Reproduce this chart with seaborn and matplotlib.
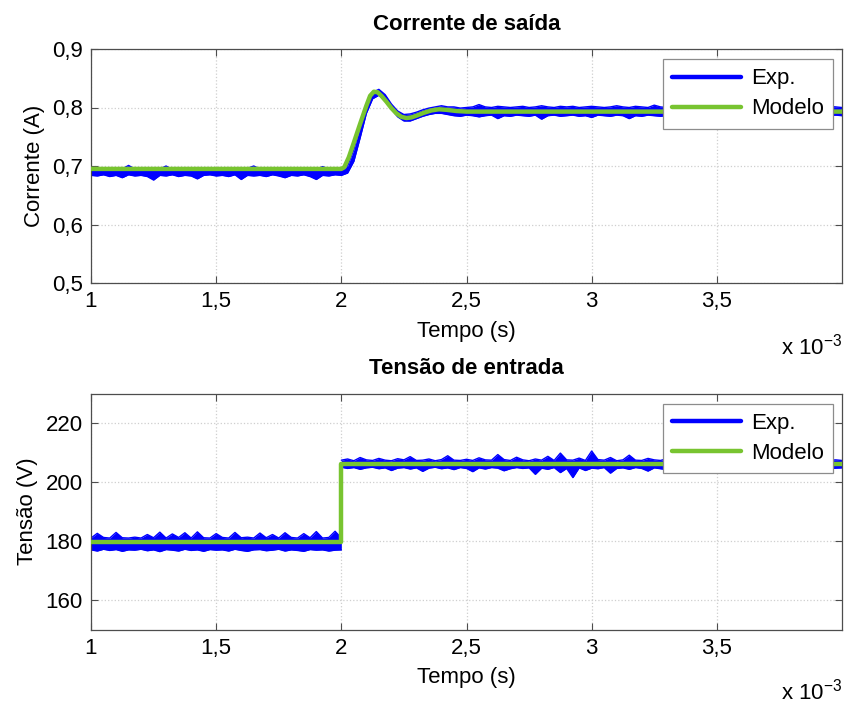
import numpy as np
import pandas as pd
import matplotlib
matplotlib.use("Agg")
import matplotlib.pyplot as plt
from matplotlib.ticker import FuncFormatter, FixedLocator
from matplotlib.lines import Line2D
import seaborn as sns

# ---------------------------------------------------------------- data
# time base of the measured signals, in ms (converted to s below)
t_ms = np.linspace(1.0, 4.0, 121)

# output current, measured band (upper / lower envelope), A
cur_hi = [
    0.695, 0.696, 0.694, 0.697, 0.695, 0.695, 0.701, 0.695, 0.694, 0.696,
    0.695, 0.695, 0.700, 0.694, 0.696, 0.695, 0.694, 0.695, 0.696, 0.695,
    0.694, 0.697, 0.695, 0.695, 0.694, 0.696, 0.700, 0.695, 0.694, 0.695,
    0.696, 0.695, 0.694, 0.695, 0.696, 0.695, 0.694, 0.699, 0.695, 0.695,
    0.695, 0.700, 0.728, 0.768, 0.806, 0.826, 0.831, 0.822, 0.806, 0.794,
    0.788, 0.789, 0.792, 0.796, 0.799, 0.801, 0.803, 0.801,
    0.801, 0.799, 0.800, 0.801, 0.805, 0.801, 0.800, 0.802, 0.801, 0.800,
    0.801, 0.802, 0.800, 0.801, 0.803, 0.801, 0.800, 0.802, 0.801, 0.802,
    0.800, 0.801, 0.802, 0.801, 0.800, 0.801, 0.803, 0.801, 0.800, 0.802,
    0.801, 0.800, 0.804, 0.801, 0.800, 0.801, 0.802, 0.801, 0.800, 0.801,
    0.803, 0.801, 0.800, 0.802, 0.801, 0.800, 0.801, 0.802, 0.801, 0.805,
    0.801, 0.800, 0.801, 0.802, 0.801, 0.800, 0.802, 0.801, 0.800, 0.801,
    0.802, 0.801, 0.800,
]
cur_lo = [
    0.684, 0.683, 0.685, 0.682, 0.684, 0.680, 0.685, 0.683, 0.684, 0.682,
    0.676, 0.684, 0.683, 0.685, 0.682, 0.684, 0.683, 0.678, 0.684, 0.685,
    0.683, 0.684, 0.682, 0.685, 0.677, 0.684, 0.683, 0.684, 0.682, 0.685,
    0.683, 0.680, 0.684, 0.683, 0.685, 0.682, 0.677, 0.684, 0.683, 0.685,
    0.684, 0.688, 0.708, 0.748, 0.790, 0.815, 0.821, 0.812, 0.797, 0.784,
    0.777, 0.777, 0.781, 0.785, 0.788, 0.790, 0.790, 0.788,
    0.786, 0.785, 0.787, 0.786, 0.784, 0.786, 0.787, 0.781, 0.786, 0.785,
    0.787, 0.786, 0.785, 0.787, 0.780, 0.786, 0.787, 0.785, 0.786, 0.787,
    0.785, 0.786, 0.783, 0.787, 0.786, 0.785, 0.787, 0.786, 0.781, 0.786,
    0.785, 0.787, 0.786, 0.785, 0.786, 0.787, 0.785, 0.780, 0.786, 0.787,
    0.785, 0.786, 0.787, 0.785, 0.786, 0.783, 0.787, 0.786, 0.785, 0.786,
    0.787, 0.785, 0.786, 0.782, 0.786, 0.787, 0.785, 0.786, 0.787, 0.785,
    0.786, 0.787, 0.786,
]

# output current, model response (knots), ms / A
mod_cur_t = [1.0, 2.0, 2.012, 2.03, 2.05, 2.075, 2.1, 2.115, 2.13, 2.145,
             2.16, 2.18, 2.2, 2.22, 2.24, 2.26, 2.28, 2.3, 2.33, 2.36,
             2.39, 2.42, 2.46, 2.5, 4.0]
mod_cur = [0.695, 0.695, 0.698, 0.715, 0.740, 0.772, 0.803, 0.820, 0.827, 0.826,
           0.820, 0.810, 0.799, 0.790, 0.784, 0.782, 0.783, 0.786, 0.791, 0.795,
           0.797, 0.796, 0.794, 0.793, 0.793]

# input voltage, measured band before and after the step, V
t_pre_ms = np.linspace(1.0, 2.0, 41)
t_post_ms = np.linspace(2.0, 4.0, 81)
volt_hi_pre = [
    181.0, 182.6, 181.2, 181.0, 182.9, 181.1, 181.0, 181.3, 181.0, 182.2,
    181.1, 183.0, 181.0, 182.4, 181.2, 182.8, 181.0, 183.1, 181.1, 181.0,
    182.5, 181.2, 181.0, 182.9, 181.1, 181.3, 181.0, 182.7, 181.1, 182.2,
    181.0, 182.8, 181.2, 181.0, 182.5, 181.1, 183.2, 181.0, 181.2, 183.3,
    181.0,
]
volt_lo_pre = [
    177.0, 176.6, 177.2, 176.8, 177.1, 176.5, 177.0, 176.9, 177.2, 176.7,
    177.0, 176.4, 177.1, 176.9, 176.6, 177.2, 176.8, 177.0, 176.5, 177.1,
    176.9, 177.0, 176.6, 177.2, 176.8, 176.5, 177.0, 177.1, 176.7, 176.9,
    177.2, 176.6, 177.0, 176.8, 176.5, 177.1, 176.9, 177.0, 176.6, 176.9,
    177.0,
]
volt_hi_post = [
    207.4, 207.8, 207.2, 208.3, 207.5, 207.3, 208.0, 207.4, 207.2, 207.9,
    207.5, 208.6, 207.3, 207.4, 207.8, 207.2, 207.6, 208.9, 207.4, 207.3,
    207.7, 207.3, 208.2, 207.5, 207.4, 209.3, 207.6, 207.3, 208.4, 207.5,
    207.2, 207.8, 207.4, 208.7, 207.3, 209.8, 207.5, 207.4, 208.1, 207.3,
    210.5, 207.6, 207.4, 208.3, 207.2, 207.5, 209.1, 207.4, 207.3, 208.0,
    207.5, 207.3, 207.9, 207.4, 208.6, 207.3, 207.5, 207.4, 208.2, 207.3,
    207.6, 207.4, 208.8, 207.3, 207.5, 207.2, 208.1, 207.4, 207.3, 207.6,
    207.4, 208.0, 207.3, 207.5, 207.4, 207.9, 207.3, 207.6, 207.4, 207.5,
    207.3,
]
volt_lo_post = [
    205.0, 204.6, 204.9, 204.3, 204.8, 205.0, 204.5, 204.8, 203.9, 204.7,
    204.9, 204.4, 204.8, 203.6, 204.7, 205.0, 204.5, 204.8, 204.2, 204.9,
    204.6, 203.5, 204.8, 204.4, 204.9, 204.7, 203.8, 204.5, 204.9, 204.6,
    204.8, 202.6, 204.7, 204.3, 204.9, 203.2, 204.6, 201.5, 204.8, 203.9,
    204.7, 204.5, 204.9, 203.0, 204.6, 204.8, 204.3, 204.9, 204.6, 203.7,
    204.8, 204.5, 204.2, 204.9, 204.7, 204.4, 203.4, 204.8, 204.6, 204.9,
    204.5, 204.8, 203.6, 204.7, 204.9, 204.4, 204.8, 204.6, 203.9, 204.7,
    204.9, 204.5, 204.8, 204.3, 204.7, 204.9, 204.6, 204.8, 204.5, 204.7,
    204.8,
]

# input voltage, model (step at 2 ms), ms / V
mod_volt_t = [1.0, 2.0, 2.0, 4.0]
mod_volt = [179.8, 179.8, 206.1, 206.1]

x_ticks_ms = [1.0, 1.5, 2.0, 2.5, 3.0, 3.5]
cur_ticks = [0.5, 0.6, 0.7, 0.8, 0.9]
volt_ticks = [160, 180, 200, 220]

# ---------------------------------------------------------------- style
sns.set_style("ticks")
plt.rcParams["font.family"] = ["Liberation Sans", "DejaVu Sans"]
plt.rcParams["mathtext.fontset"] = "custom"
plt.rcParams["mathtext.rm"] = "Liberation Sans"
plt.rcParams["mathtext.it"] = "Liberation Sans:italic"
plt.rcParams["text.color"] = "black"
plt.rcParams["axes.labelcolor"] = "black"

BLUE = "#0000ff"
GREEN = "#78c430"
SPINE = "#4d4d4d"
FS = 16

fig = plt.figure(figsize=(8.47, 7.04), dpi=100)
ax1 = fig.add_axes([91 / 847, 1 - 283 / 704, 751 / 847, 234 / 704])
ax2 = fig.add_axes([91 / 847, 1 - 629.5 / 704, 751 / 847, 236 / 704])


def draw_band(ax, t, lo, hi):
    ts = np.asarray(t) * 1e-3
    ax.fill_between(ts, lo, hi, color=BLUE, lw=0, zorder=2)
    df = pd.DataFrame({"t": np.concatenate([ts, ts]),
                       "v": np.concatenate([lo, hi]),
                       "edge": ["lo"] * len(ts) + ["hi"] * len(ts)})
    sns.lineplot(data=df, x="t", y="v", units="edge", estimator=None,
                 color=BLUE, lw=1.0, ax=ax, zorder=2)


def draw_model(ax, t, v):
    df = pd.DataFrame({"t": np.asarray(t) * 1e-3, "v": v})
    sns.lineplot(data=df, x="t", y="v", sort=False, estimator=None,
                 color=GREEN, lw=3.2, ax=ax, zorder=3)


draw_band(ax1, t_ms, cur_lo, cur_hi)
draw_model(ax1, mod_cur_t, mod_cur)

draw_band(ax2, t_pre_ms, volt_lo_pre, volt_hi_pre)
draw_band(ax2, t_post_ms, volt_lo_post, volt_hi_post)
draw_model(ax2, mod_volt_t, mod_volt)

fmt_x = FuncFormatter(lambda v, p: f"{v * 1e3:g}".replace(".", ","))

for ax, yt, ylim, ylab, title, xoff in [
    (ax1, cur_ticks, (0.5, 0.9), "Corrente (A)", "Corrente de saída", -0.272),
    (ax2, volt_ticks, (150, 230), "Tensão (V)", "Tensão de entrada", -0.262),
]:
    ax.set_xlim(1e-3, 4e-3)
    ax.set_ylim(*ylim)
    ax.xaxis.set_major_locator(FixedLocator([v * 1e-3 for v in x_ticks_ms]))
    ax.xaxis.set_major_formatter(fmt_x)
    ax.yaxis.set_major_locator(FixedLocator(yt))
    ax.yaxis.set_major_formatter(
        FuncFormatter(lambda v, p: f"{v:g}".replace(".", ",")))
    ax.grid(True, ls=":", color="#cfcfcf", lw=0.9)
    for s in ax.spines.values():
        s.set_visible(True)
        s.set_color(SPINE)
        s.set_linewidth(0.9)
    ax.tick_params(direction="in", length=5, width=0.8, color=SPINE,
                   labelsize=FS, labelcolor="black", pad=6,
                   top=True, right=True)
    ax.set_xlabel("Tempo (s)", fontsize=FS, labelpad=6)
    ax.set_ylabel(ylab, fontsize=FS, labelpad=5)
    ax.set_title(title, fontsize=16, fontweight="bold", pad=14,
                 color="black")
    ax.text(1.0, xoff, r"x 10$^{-3}$", transform=ax.transAxes,
            ha="right", va="center", fontsize=FS)
    handles = [Line2D([], [], color=BLUE, lw=3.2),
               Line2D([], [], color=GREEN, lw=3.2)]
    leg = ax.legend(handles, ["Exp.", "Modelo"], loc="upper right",
                    bbox_to_anchor=(0.988, 0.957), fontsize=FS,
                    frameon=True, fancybox=False, framealpha=1,
                    edgecolor="#8c8c8c", handlelength=3.1,
                    handletextpad=0.45, labelspacing=0.4,
                    borderpad=0.42, borderaxespad=0)
    leg.get_frame().set_linewidth(0.9)

fig.savefig("out.png", dpi=100, facecolor="white")
